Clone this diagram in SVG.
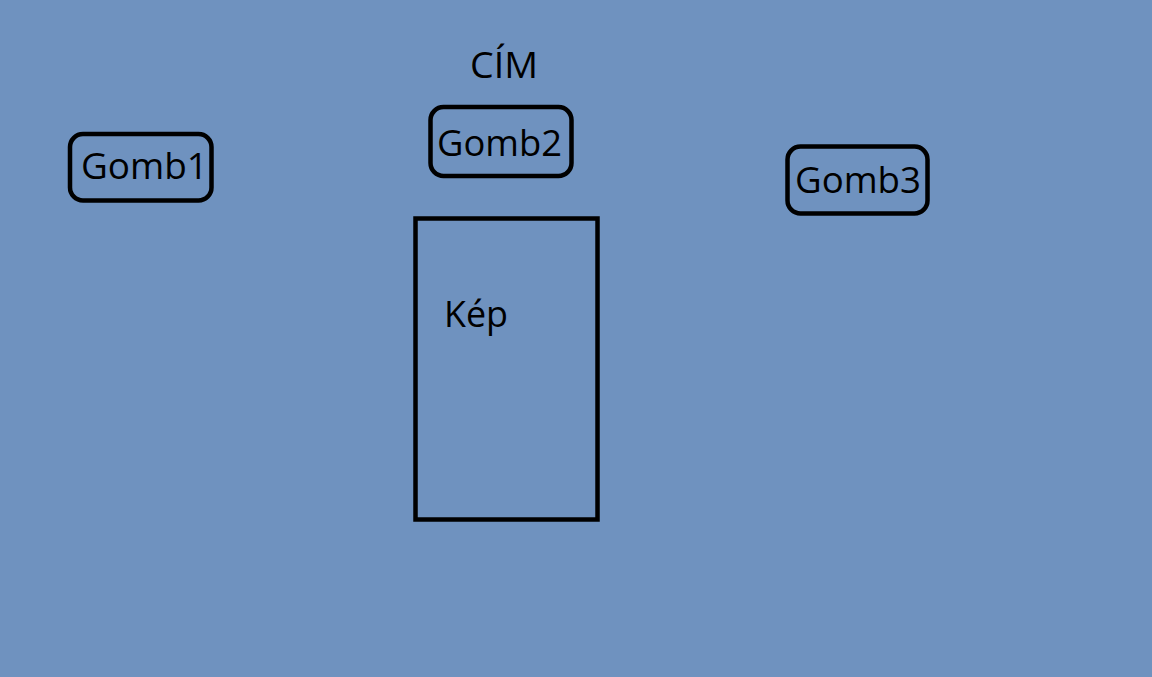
<svg xmlns="http://www.w3.org/2000/svg" width="1152" height="677" viewBox="0 0 1152 677">
<style>
.btn{fill:none;stroke:#000;stroke-width:4.5}
.t{font-family:"Open Sans","Liberation Sans",Arial,sans-serif;font-size:37px;fill:#000}
</style>
<rect x="0" y="0" width="1152" height="677" fill="#6f92bf"/>
<g id="title"><text class="t" x="470" y="78" textLength="68" lengthAdjust="spacingAndGlyphs">CÍM</text></g>
<g id="gomb1"><rect class="btn" x="70" y="134" width="141.5" height="66.5" rx="13"/><text class="t" x="81" y="179" textLength="127" lengthAdjust="spacingAndGlyphs">Gomb1</text></g>
<g id="gomb2"><rect class="btn" x="430.5" y="107" width="141" height="69" rx="13"/><text class="t" x="437" y="156" textLength="125" lengthAdjust="spacingAndGlyphs">Gomb2</text></g>
<g id="gomb3"><rect class="btn" x="787.5" y="146.5" width="140" height="67" rx="13"/><text class="t" x="795" y="193" textLength="126" lengthAdjust="spacingAndGlyphs">Gomb3</text></g>
<g id="kep"><rect x="415.5" y="218.5" width="182" height="301" fill="none" stroke="#000" stroke-width="4.5"/><text class="t" x="444" y="327" textLength="64" lengthAdjust="spacingAndGlyphs">Kép</text></g>
<g id="connectors"/>
</svg>
